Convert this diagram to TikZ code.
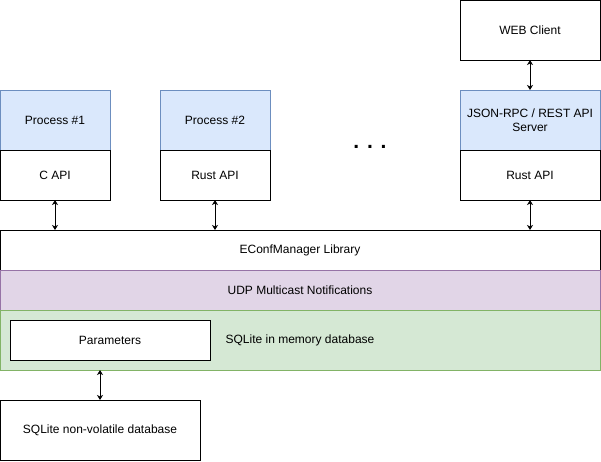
\documentclass[tikz,border=0pt]{standalone}
\usepackage{fontspec}
\setmainfont{Liberation Sans}
\usetikzlibrary{positioning,arrows.meta}

\definecolor{procfill}{HTML}{DAE8FC}
\definecolor{procline}{HTML}{6C8EBF}
\definecolor{udpfill}{HTML}{E1D5E7}
\definecolor{udpline}{HTML}{9673A6}
\definecolor{memfill}{HTML}{D5E8D4}
\definecolor{memline}{HTML}{82B366}

\begin{document}
\begin{tikzpicture}[x=1pt,y=-1pt,
		box/.style={draw=black, fill=white, line width=1pt, inner sep=2pt, outer sep=0pt, align=center, font=\fontsize{12}{14}\selectfont},
		procbox/.style={box, draw=procline, fill=procfill, minimum height=60pt},
		apibox/.style={box, minimum height=50pt},
		layerbox/.style={box, minimum width=600pt, minimum height=40pt},
		link/.style={{Stealth[length=5pt,width=6pt,inset=1.5pt]}-{Stealth[length=5pt,width=6pt,inset=1.5pt]}, line width=1pt},
		]
		\useasboundingbox (0,0) rectangle (601,461);

		%Nodes
		\node[procbox, minimum width=110pt, anchor=north west] (proc1) at (0,90) {Process \#1};
		\node[apibox, minimum width=110pt, below=0pt of proc1] (capi) {C API};
		\node[procbox, minimum width=110pt, anchor=north west] (proc2) at (160,90) {Process \#2};
		\node[apibox, minimum width=110pt, below=0pt of proc2] (rust2) {Rust API};
		\node[box, minimum width=140pt, minimum height=60pt, anchor=north west] (web) at (460,0) {WEB Client};
		\node[procbox, minimum width=140pt, below=30pt of web] (server) {JSON-RPC / REST API\\Server};
		\node[apibox, minimum width=140pt, below=0pt of server] (rust3) {Rust API};
		\node[font=\fontsize{21}{24}\selectfont\bfseries, anchor=base] (dots) at (370,148) {. . .};

		\node[layerbox, anchor=north west] (lib) at (0,230) {EConfManager Library};
		\node[layerbox, draw=udpline, fill=udpfill, below=0pt of lib] (udp) {UDP Multicast Notifications};
		\node[layerbox, draw=memline, fill=memfill, minimum height=60pt, below=0pt of udp] (mem) {SQLite in memory database};
		\node[box, minimum width=200pt, minimum height=40pt, anchor=north west] (params) at (10,320) {Parameters};
		\node[box, minimum width=200pt, minimum height=60pt, anchor=north west] (disk) at (0,400) {SQLite non-volatile database};

		%Lines
		\draw[link] (web) -- (server);
		\draw[link] (capi) -- (capi |- lib.north);
		\draw[link] (rust2) -- (rust2 |- lib.north);
		\draw[link] (rust3) -- (rust3 |- lib.north);
		\draw[link] (disk.north |- mem.south) -- (disk);
\end{tikzpicture}
\end{document}
